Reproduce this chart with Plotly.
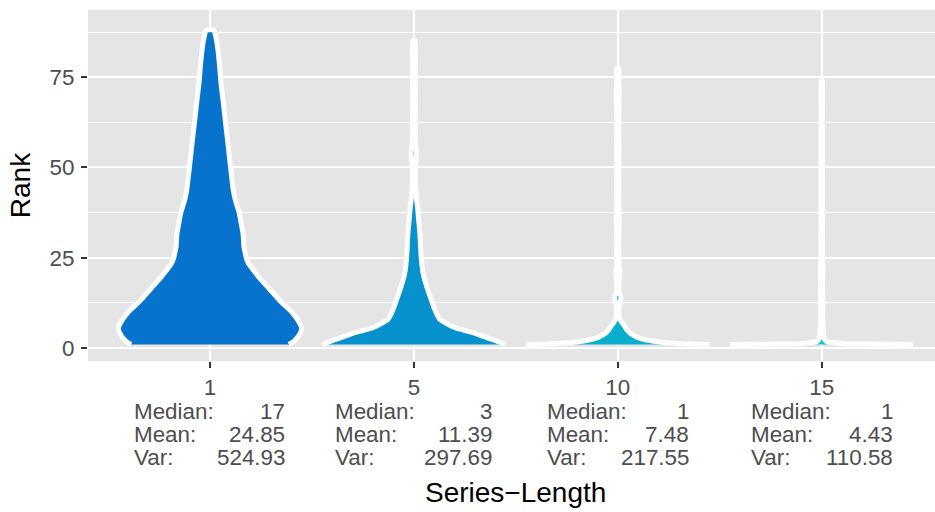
import plotly.graph_objects as go

# Series-length groups shown on the x axis
series_lengths = ["1", "5", "10", "15"]

# Density profiles (rank value -> relative violin width, 1 = widest)
rank_len1 = [1, 2, 3.5, 5.5, 7, 8.7, 10.5, 12.4, 14, 16, 18, 19.7, 21.5, 23.4, 25, 26.2,
             28, 31.7, 34.5, 37.3, 41, 43.5, 46.5, 51, 55.7, 59, 63, 68, 73.3, 78, 82.5, 86, 88]
dens_len1 = [0.86, 0.92, 0.97, 1.0, 0.975, 0.93, 0.87, 0.79, 0.73, 0.66, 0.59, 0.53, 0.475,
             0.42, 0.395, 0.385, 0.37, 0.36, 0.34, 0.32, 0.276, 0.255, 0.24, 0.22, 0.20, 0.185,
             0.167, 0.145, 0.12, 0.105, 0.087, 0.065, 0.04]

rank_len5 = [1, 1.5, 2.3, 3.2, 4.15, 5.0, 5.9, 7.0, 8.0, 10.5, 13.3, 17, 20.7, 25, 31.8, 36,
             39, 41, 44, 48, 51, 54, 57, 62, 68, 74, 80, 85]
dens_len5 = [1.0, 0.95, 0.86, 0.76, 0.66, 0.53, 0.42, 0.34, 0.28, 0.23, 0.19, 0.14, 0.10,
             0.08, 0.065, 0.05, 0.04, 0.03, 0.02, 0.016, 0.02, 0.03, 0.018, 0.014, 0.015,
             0.014, 0.016, 0.012]

rank_len10 = [1, 1.2, 1.5, 2.0, 2.8, 3.4, 4.1, 5.0, 6.2, 7.0, 7.9, 9, 10.5, 12, 13.2, 14.2,
              15.2, 16.5, 18, 20, 21.3, 22.5, 25, 30, 35.4, 40, 45, 50, 55, 60, 65, 70.5, 74, 77.5]
dens_len10 = [1.0, 0.7, 0.5, 0.36, 0.23, 0.18, 0.136, 0.10, 0.07, 0.045, 0.025, 0.015, 0.012,
              0.02, 0.03, 0.035, 0.02, 0.012, 0.014, 0.018, 0.026, 0.014, 0.012, 0.01, 0.016,
              0.01, 0.012, 0.01, 0.014, 0.01, 0.012, 0.016, 0.01, 0.012]

rank_len15 = [1, 1.08, 1.2, 1.45, 1.7, 2.2, 3.0, 4, 5, 6, 8, 10, 12, 14, 16, 18, 20, 21, 24,
              28, 32, 36, 40, 45, 50, 55, 60, 65, 70, 74]
dens_len15 = [1.0, 0.5, 0.25, 0.15, 0.06, 0.035, 0.025, 0.02, 0.018, 0.014, 0.012, 0.01,
              0.014, 0.01, 0.012, 0.01, 0.012, 0.016, 0.01, 0.008, 0.01, 0.008, 0.009, 0.008,
              0.009, 0.008, 0.008, 0.007, 0.008, 0.006]

# Summary statistics printed under each group
medians = [17, 3, 1, 1]
means = [24.85, 11.39, 7.48, 4.43]
variances = [524.93, 297.69, 217.55, 110.58]

# Y axis ticks
y_ticks = [0, 25, 50, 75]
y_minor = [12.5, 37.5, 62.5, 87.5]

profiles = [(rank_len1, dens_len1), (rank_len5, dens_len5),
            (rank_len10, dens_len10), (rank_len15, dens_len15)]
fill_colors = ["#0873CD", "#0892CD", "#08AFCC", "#08C8CC"]
half_width = 0.45  # half of ggplot's default violin width of 0.9

fig = go.Figure()
for i, ((ranks, dens), col) in enumerate(zip(profiles, fill_colors)):
    pos = i + 1
    xs = [pos + half_width * d for d in dens] + [pos - half_width * d for d in reversed(dens)]
    ys = list(ranks) + list(reversed(ranks))
    fig.add_trace(go.Scatter(
        x=xs, y=ys, mode="lines", fill="toself", fillcolor=col,
        line=dict(color="white", width=5, shape="spline", smoothing=0.6),
        hoverinfo="skip", showlegend=False,
    ))

# Panel geometry (pixels)
W, H = 935, 512
M_L, M_T, M_R, M_B = 88, 10, 0, 151
stat_font = dict(family="Liberation Sans, Arial, sans-serif", size=22.4, color="#4D4D4D")

# Left / right edges of each statistics block relative to the group centre (px)
block_left = [-77, -80, -72, -72]
block_right = [76, 79, 72, 72]
line_shift = [-50, -73.4, -96.7]

annotations = []
for i in range(4):
    pos = i + 1
    labels = ["Median:", "Mean:", "Var:"]
    values = [f"{medians[i]}", f"{means[i]:.2f}", f"{variances[i]:.2f}"]
    for lab, val, ys in zip(labels, values, line_shift):
        annotations.append(dict(x=pos, y=0, xref="x", yref="paper", text=lab, showarrow=False,
                                xanchor="left", yanchor="middle", xshift=block_left[i] - 1,
                                yshift=ys, font=stat_font))
        annotations.append(dict(x=pos, y=0, xref="x", yref="paper", text=val, showarrow=False,
                                xanchor="right", yanchor="middle", xshift=block_right[i] + 1,
                                yshift=ys, font=stat_font))

title_font = dict(family="Liberation Sans, Arial, sans-serif", size=28, color="black")
annotations.append(dict(x=0.505, y=0, xref="paper", yref="paper", text="Series\u2212Length",
                        showarrow=False, xanchor="center", yanchor="middle", yshift=-131,
                        font=title_font))

fig.update_layout(
    width=W, height=H,
    margin=dict(l=M_L, r=M_R, t=M_T, b=M_B),
    paper_bgcolor="white", plot_bgcolor="#E5E5E5",
    annotations=annotations,
    xaxis=dict(
        range=[0.4017, 4.5557], tickvals=[1, 2, 3, 4], ticktext=series_lengths,
        showgrid=True, gridcolor="white", gridwidth=2, zeroline=False,
        ticks="outside", ticklen=6, tickwidth=2, tickcolor="#333333",
        tickfont=stat_font, showline=False,
    ),
    yaxis=dict(
        range=[-3.6, 93.6], tickvals=y_ticks,
        showgrid=True, gridcolor="white", gridwidth=2, zeroline=False,
        ticks="outside", ticklen=6, tickwidth=2, tickcolor="#333333",
        tickfont=stat_font, showline=False, ticklabelstandoff=2,
        minor=dict(tickvals=y_minor, showgrid=True, gridcolor="white", gridwidth=1, ticks=""),
        title=dict(text="Rank", font=title_font, standoff=10),
    ),
)

fig.write_html("out.html")
